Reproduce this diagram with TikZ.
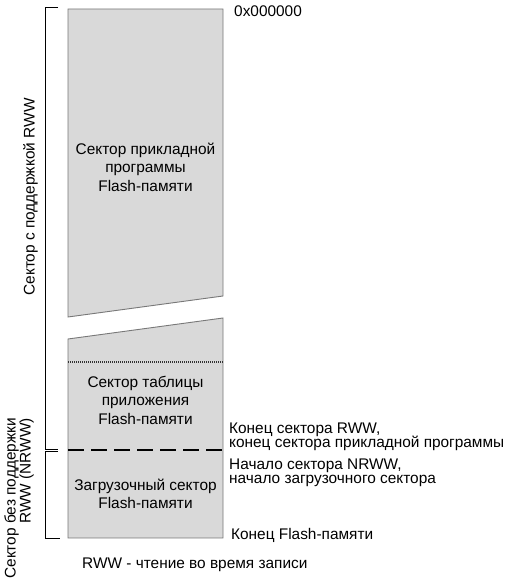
\documentclass[tikz,border=0pt]{standalone}
\usepackage{fontspec}
\setmainfont{Liberation Sans}
\definecolor{flashfill}{RGB}{217,217,217}
\definecolor{flashedge}{RGB}{120,120,120}
\newcommand{\tightlines}{\fontsize{15.4}{14.5}\selectfont\lineskiplimit -20pt\relax}

\begin{document}
\begin{tikzpicture}[x=1pt,y=1pt,
    sector/.style={draw=flashedge,fill=flashfill,line width=0.9pt},
    inlabel/.style={align=center,font=\fontsize{15.4}{18.5}\selectfont},
    addr/.style={anchor=base west,align=left,inner sep=0pt,font=\tightlines},
    brace/.style={draw=black,line width=0.8pt}
  ]
\useasboundingbox (0,0) rectangle (509,586);
  % memory blocks
  \draw[sector] (68,577) -- (223,577) -- (223,290) -- (68,269) -- cycle;
  \draw[sector] (68,247) -- (223,268) -- (223,48) -- (68,48) -- cycle;
  \coordinate (dl) at (68,224);
  \coordinate (dr) at (223,224);
  \coordinate (bl) at (68,136);
  \coordinate (br) at (223,136);
  \draw[black!80,line width=1.2pt,dash pattern=on 1pt off 1pt] (dl) -- (dr);
  \draw[black,line width=2pt,dash pattern=on 16pt off 7pt] (bl) -- (br);
  \node[inlabel] (app) at (145.5,419) {Сектор прикладной\\программы\\Flash-памяти};
  \node[inlabel] (tab) at (145.5,186) {Сектор таблицы\\приложения\\Flash-памяти};
  \node[inlabel] (boot) at (145.5,92) {Загрузочный сектор\\Flash-памяти};
  % brackets
  \coordinate (u1) at (58,579);
  \coordinate (u2) at (45.5,579);
  \coordinate (u3) at (45.5,137);
  \coordinate (u4) at (58,137);
  \coordinate (n1) at (58,135);
  \coordinate (n2) at (45.5,135);
  \coordinate (n3) at (45.5,48);
  \coordinate (n4) at (60,48);
  \draw[brace] (u1) -- (u2) -- (u3) -- (u4);
  \draw[brace] (n1) -- (n2) -- (n3) -- (n4);
  \node[rotate=90,font=\fontsize{15.4}{15}\selectfont] (rww) at (30.5,389) {Сектор с поддержкой RWW};
  \node[rotate=90,anchor=east,align=right,inner sep=0pt,font=\fontsize{15.4}{15}\selectfont] (nrww) at (19,168) {Сектор без поддержки\\RWW (NRWW)};
  % addresses
  \node[addr] (top) at (234,569) {0x000000};
  \node[addr] (rwwend) at (229,138.2) {Конец сектора RWW,\\конец сектора прикладной программы};
  \node[addr] (nrwwbeg) at (229,102.2) {Начало сектора NRWW,\\начало загрузочного сектора};
  \node[addr] (fend) at (231,46) {Конец Flash-памяти};
  \node[addr] (note) at (82,17) {RWW - чтение во время записи};
\end{tikzpicture}
\end{document}
